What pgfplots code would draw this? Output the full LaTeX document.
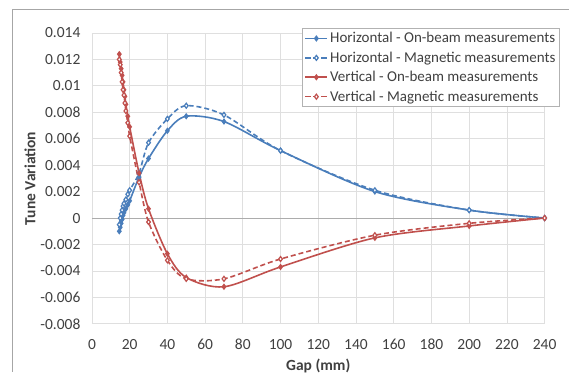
\documentclass[border=0pt]{standalone}
\usepackage{pgfplots}
\pgfplotsset{compat=1.18}
\usepackage{fontspec}
\setmainfont{Carlito}
\definecolor{exblue}{HTML}{4A7EBB}
\definecolor{exred}{HTML}{C0504D}
\definecolor{txt}{HTML}{404040}
\begin{document}
\begin{tikzpicture}[x=1pt,y=1pt]
\begin{axis}[
  at={(0pt,0pt)}, anchor=south west,
  scale only axis, width=453pt, height=291pt,
  xmin=0, xmax=240, ymin=-0.008, ymax=0.014,
  xtick={0,20,...,240},
  ytick={-0.008,-0.006,-0.004,-0.002,0,0.002,0.004,0.006,0.008,0.01,0.012,0.014},
  scaled y ticks=false,
  yticklabel style={xshift=-8pt, /pgf/number format/fixed, /pgf/number format/precision=3, /pgf/number format/assume math mode=true},
  xticklabel style={/pgf/number format/assume math mode=true, yshift=-12pt},
  ticklabel style={font=\fontsize{15.5}{17}\selectfont, text=txt},
  major tick length=0pt,
  axis line style={draw=none},
  grid=major,
  grid style={gray!25, line width=0.8pt},
  extra y ticks={0}, extra y tick labels={},
  extra y tick style={grid style={gray!65, line width=1pt}},
  xlabel={\textbf{Gap (mm)}},
  ylabel={\textbf{Tune Variation}},
  label style={font=\fontsize{15.5}{17}\selectfont, text=txt},
  xlabel style={at={(axis description cs:0.5,0)}, anchor=center, yshift=-42pt},
  ylabel style={at={(axis description cs:0,0.5)}, anchor=center, yshift=62pt},
  legend style={at={(axis description cs:1.0331,1.016)}, anchor=north east,
    draw=gray!60, font=\fontsize{15}{17}\selectfont, text=txt,
    row sep=3.5pt, inner sep=2pt, cells={anchor=west}},
  legend image code/.code={
    \draw[mark repeat=2,mark phase=2,#1] plot coordinates {(0pt,0pt) (11pt,0pt) (22pt,0pt)};},
]
\addplot[exblue, line width=1.6pt, smooth, mark=diamond*, mark size=2pt, mark options={solid}] coordinates {
(14.5,-0.0010) (15,-0.0007) (15.5,-0.0004) (16,-0.0001) (16.5,0.0002) (17,0.0004)
(18,0.0007) (19,0.0010) (20,0.0013) (25,0.0031) (30,0.0045) (40,0.0066) (50,0.0077)
(70,0.0073) (100,0.0051) (150,0.0020) (200,0.0006) (240,0)};
\addlegendentry{Horizontal - On-beam measurements}
\addplot[exblue, line width=1.6pt, dash pattern=on 5pt off 3pt, smooth, mark=diamond*, mark size=2.5pt, mark options={solid, fill=white, line width=1.2pt}] coordinates {
(14.5,-0.0005) (15,0.0000) (15.5,0.0003) (16,0.0006) (16.5,0.0009) (17,0.0011)
(18,0.0014) (19,0.0018) (20,0.0021) (25,0.0034) (30,0.0057) (40,0.0075) (50,0.0085)
(70,0.0078) (100,0.0051) (150,0.0021) (200,0.0006) (240,0)};
\addlegendentry{Horizontal - Magnetic measurements}
\addplot[exred, line width=1.6pt, smooth, mark=diamond*, mark size=2pt, mark options={solid}] coordinates {
(14.5,0.0124) (15,0.0118) (15.5,0.0113) (16,0.0108) (16.5,0.0103) (17,0.0097)
(17.5,0.0092) (18,0.0086) (19,0.0077) (20,0.0069) (25,0.0034) (30,0.0007)
(40,-0.0027) (50,-0.0045) (70,-0.0052) (100,-0.0037) (150,-0.0015) (200,-0.0006) (240,0)};
\addlegendentry{Vertical - On-beam measurements}
\addplot[exred, line width=1.6pt, dash pattern=on 5pt off 3pt, smooth, mark=diamond*, mark size=2.5pt, mark options={solid, fill=white, line width=1.2pt}] coordinates {
(14.5,0.0120) (15,0.0116) (15.5,0.0110) (16,0.0103) (16.5,0.0097) (17,0.0093)
(17.5,0.0087) (18,0.0081) (19,0.0072) (20,0.0062) (25,0.0027) (30,-0.0003)
(40,-0.0032) (50,-0.0046) (70,-0.0046) (100,-0.0031) (150,-0.0013) (200,-0.0004) (240,0)};
\addlegendentry{Vertical - Magnetic measurements}
\end{axis}
\draw[gray!70, line width=0.8pt] (-80,-48) -- (-80,315) -- (477,315);
\useasboundingbox (-92,-48) rectangle (477,324);
\end{tikzpicture}
\end{document}
